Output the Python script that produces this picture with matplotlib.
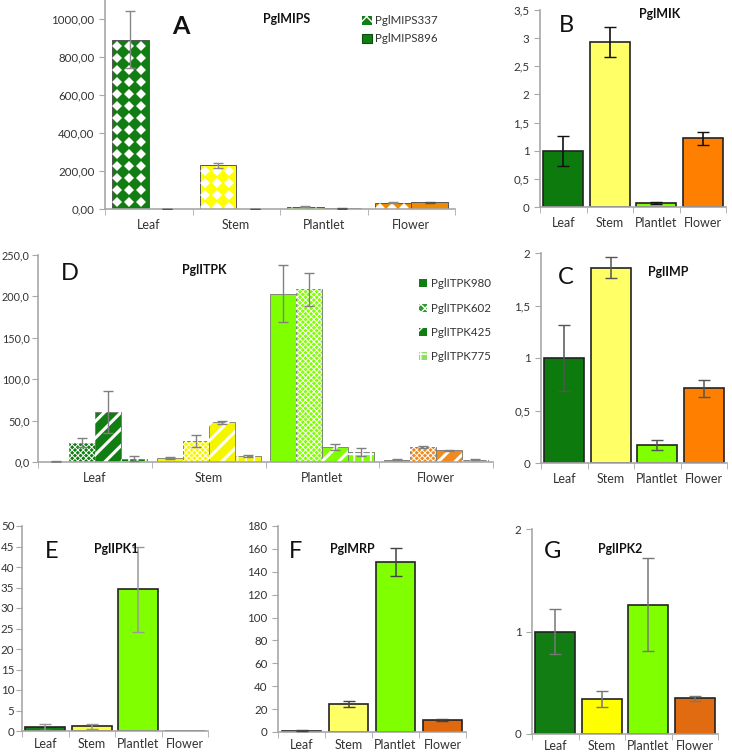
import matplotlib
matplotlib.use('Agg')
import matplotlib.pyplot as plt
from matplotlib.patches import Patch
import numpy as np

plt.rcParams['font.family'] = ['Lato', 'DejaVu Sans']

tissues = ['Leaf', 'Stem', 'Plantlet', 'Flower']

# panel A - PglMIPS
mips337 = [890, 230, 12, 33]
mips337_err = [150, 12, 3, 3]
mips896 = [2, 1, 3, 35]
mips896_err = [0.5, 0.5, 1, 3]

# panel B - PglMIK
mik = [1.0, 2.93, 0.07, 1.22]
mik_err = [0.27, 0.27, 0.02, 0.12]

# panel C - PglIMP
imp = [1.0, 1.86, 0.17, 0.71]
imp_err = [0.31, 0.1, 0.05, 0.08]

# panel D - PglITPK (one list per isoform, values by tissue)
itpk980 = [0.5, 5.0, 203.5, 2.8]
itpk980_err = [0.8, 1.5, 34.5, 0.5]
itpk602 = [23.5, 25.2, 208.5, 18.3]
itpk602_err = [5.0, 7.0, 20.0, 1.5]
itpk425 = [60.2, 47.8, 18.3, 14.0]
itpk425_err = [25.0, 1.8, 3.5, 1.0]
itpk775 = [4.2, 7.0, 12.3, 2.8]
itpk775_err = [3.0, 1.5, 4.5, 0.5]

# panel E - PglIPK1
ipk1 = [0.9, 1.1, 34.6, 0.0]
ipk1_err = [0.7, 0.5, 10.4, 0.0]

# panel F - PglMRP
mrp = [1.0, 24.5, 148.5, 10.3]
mrp_err = [0.5, 3.0, 12.5, 0.7]

# panel G - PglIPK2
ipk2 = [1.0, 0.34, 1.26, 0.35]
ipk2_err = [0.215, 0.075, 0.455, 0.025]

W, H = 732, 756
fig = plt.figure(figsize=(W / 100, H / 100), dpi=100)

GRAY = '#a8a8a8'
TXT = '#333333'


def px_axes(left, top, right, bottom):
    return fig.add_axes([left / W, 1 - bottom / H, (right - left) / W, (bottom - top) / H])


def px_text(x, y, s, **kw):
    fig.text(x / W, 1 - y / H, s, ha='center', va='center', **kw)


def style(ax, ymax, yticks, ylabels, ysize=8.3, ypad=3.5, xpad=7):
    ax.set_xlim(-0.5, 3.5)
    ax.set_ylim(0, ymax)
    ax.patch.set_alpha(0)
    for s in ['top', 'right']:
        ax.spines[s].set_visible(False)
    for s in ['left', 'bottom']:
        ax.spines[s].set_color(GRAY)
        ax.spines[s].set_linewidth(1.2)
    ax.set_yticks(yticks, ylabels)
    ax.set_xticks(range(4), tissues)
    ax.set_xticks(np.arange(-0.5, 4.0, 1.0), minor=True)
    ax.tick_params(axis='x', which='major', length=0, pad=xpad, labelsize=9, labelcolor=TXT)
    ax.tick_params(axis='x', which='minor', length=4, color=GRAY)
    ax.tick_params(axis='y', length=4, color=GRAY, labelsize=ysize, labelcolor=TXT, pad=ypad)


def diamond_fill(ax, rect, step=12.0, ms=4.8):
    x0, y0 = rect.get_x(), rect.get_y()
    (px0, py0), (px1, py1) = ax.transData.transform(
        [(x0, y0), (x0 + rect.get_width(), y0 + rect.get_height())])
    xs = np.arange(px0 + step * 0.45, px1, step)
    ys = np.arange(py1 - step * 0.47, py0 - step, -step)
    gx, gy = np.meshgrid(xs, ys)
    pts = ax.transData.inverted().transform(np.column_stack([gx.ravel(), gy.ravel()]))
    ln, = ax.plot(pts[:, 0], pts[:, 1], 'D', color='white', ms=ms, mew=0,
                  linestyle='none', zorder=2.5)
    ln.set_clip_path(rect)


def hatch_over(ax, x, h, w, hatch, hlw):
    bars = ax.bar(x, h, w, facecolor='none', edgecolor='white', linewidth=0,
                  hatch=hatch, zorder=2.5)
    for b in bars:
        if hasattr(b, 'set_hatch_linewidth'):
            b.set_hatch_linewidth(hlw)


x = np.arange(4)

# ---------------- A ----------------
colA = ['#127d12', '#ffff00', '#7fff00', '#f08a00']
axA = px_axes(105, 0, 455, 209)
style(axA, 1100, [0, 200, 400, 600, 800, 1000],
      ['0,00', '200,00', '400,00', '600,00', '800,00', '1000,00'])
wA = 0.42
barsA = axA.bar(x - wA / 2, mips337, wA, color=colA, edgecolor='#555555', linewidth=0.7, zorder=2)
for b in barsA:
    diamond_fill(axA, b)
axA.bar(x + wA / 2, mips896, wA, color=colA, edgecolor='#555555', linewidth=0.7, zorder=2)
axA.errorbar(x - wA / 2, mips337, yerr=mips337_err, fmt='none', ecolor='#888888',
             elinewidth=1, capsize=3.5, zorder=3)
axA.errorbar(x + wA / 2, mips896, yerr=mips896_err, fmt='none', ecolor='#555555',
             elinewidth=1, capsize=3.5, zorder=3)
px_text(181, 26, 'A', fontsize=18, fontweight='bold', color='#111111')
px_text(287, 19, 'PglMIPS', fontsize=9, fontweight='bold', color='#111111')
hA = [Patch(facecolor='#127d12', edgecolor='white', hatch='xx', linewidth=0),
      Patch(facecolor='#127d12', edgecolor='#0b4d0b', linewidth=0.8)]
fig.legend(hA, ['PglMIPS337', 'PglMIPS896'], loc='upper left',
           bbox_to_anchor=(352 / W, 1 - 5 / H), frameon=False, fontsize=8.3,
           handlelength=0.8, handleheight=0.8, handletextpad=0.3, labelspacing=0.6,
           labelcolor=TXT)

# ---------------- B ----------------
colB = ['#0c7a0c', '#ffff66', '#80ff00', '#ff8000']
axB = px_axes(540, 10, 726, 207)
style(axB, 3.5, [0, 0.5, 1, 1.5, 2, 2.5, 3, 3.5],
      ['0', '0,5', '1', '1,5', '2', '2,5', '3', '3,5'])
axB.bar(x, mik, 0.86, color=colB, edgecolor='#222222', linewidth=1.2, zorder=2)
axB.errorbar(x, mik, yerr=mik_err, fmt='none', ecolor='#111111', elinewidth=1.2,
             capsize=4, zorder=3)
px_text(566, 26, 'B', fontsize=17, color='#111111')
px_text(660, 14, 'PglMIK', fontsize=9, fontweight='bold', color='#111111')

# ---------------- C ----------------
axC = px_axes(541, 253, 727, 463)
style(axC, 2, [0, 0.5, 1, 1.5, 2], ['0', '0,5', '1', '1,5', '2'])
axC.bar(x, imp, 0.85, color=colB, edgecolor='#222222', linewidth=1.2, zorder=2)
axC.errorbar(x, imp, yerr=imp_err, fmt='none', ecolor='#555555', elinewidth=1.1,
             capsize=4, zorder=3)
px_text(566, 277, 'C', fontsize=17, color='#111111')
px_text(668, 272, 'PglIMP', fontsize=9, fontweight='bold', color='#111111')

# ---------------- D ----------------
colD = ['#127d12', '#f5f500', '#80ff00', '#f08a20']
axD = px_axes(38, 255, 493, 462)
style(axD, 250, [0, 50, 100, 150, 200, 250],
      ['0,0', '50,0', '100,0', '150,0', '200,0', '250,0'], ysize=7.8, ypad=2)
wD = 0.229
seriesD = [(itpk980, itpk980_err, None, 0), (itpk602, itpk602_err, 'xxxxxx', 0.7),
           (itpk425, itpk425_err, '//', 2.2), (itpk775, itpk775_err, '++', 1.4)]
for i, (vals, errs, hatch, hlw) in enumerate(seriesD):
    xi = x + (i - 1.5) * wD
    axD.bar(xi, vals, wD, color=colD, edgecolor='#777777', linewidth=0.6, zorder=2)
    if hatch:
        hatch_over(axD, xi, vals, wD, hatch, hlw)
    axD.errorbar(xi, vals, yerr=errs, fmt='none', ecolor='#808080', elinewidth=1,
                 capsize=3.5, zorder=3)
px_text(70, 274, 'D', fontsize=17, color='#111111')
px_text(204, 270, 'PglITPK', fontsize=9, fontweight='bold', color='#111111')
hD = [Patch(facecolor='#127d12', linewidth=0),
      Patch(facecolor='#2f9a2f', edgecolor='white', hatch='xxxx', linewidth=0),
      Patch(facecolor='#127d12', edgecolor='white', hatch='//', linewidth=0),
      Patch(facecolor='#8fe060', edgecolor='white', hatch='++', linewidth=0)]
fig.legend(hD, ['PglITPK980', 'PglITPK602', 'PglITPK425', 'PglITPK775'],
           loc='upper left', bbox_to_anchor=(409 / W, 1 - 268 / H), frameon=False,
           fontsize=8.3, handlelength=0.7, handleheight=0.7, handletextpad=0.3,
           labelspacing=1.15, labelcolor=TXT)

# ---------------- E ----------------
colE = ['#127d12', '#ffff33', '#80ff00', '#e8700f']
axE = px_axes(22, 526, 208, 731)
style(axE, 50, list(range(0, 51, 5)), [str(v) for v in range(0, 51, 5)], ypad=1.5, xpad=5)
axE.bar(x, ipk1, 0.85, color=colE, edgecolor='#222222', linewidth=1.2, zorder=2)
axE.errorbar(x[:3], ipk1[:3], yerr=ipk1_err[:3], fmt='none', ecolor='#999999',
             elinewidth=1.1, capsize=4, zorder=3)
px_text(52, 551, 'E', fontsize=17, color='#111111')
px_text(116, 549, 'PglIPK1', fontsize=9, fontweight='bold', color='#111111')

# ---------------- F ----------------
colF = ['#127d12', '#ffff66', '#80ff00', '#e0680f']
axF = px_axes(278, 526, 466, 732)
style(axF, 180, list(range(0, 181, 20)), [str(v) for v in range(0, 181, 20)], xpad=5)
axF.bar(x, mrp, 0.85, color=colF, edgecolor='#222222', linewidth=1.2, zorder=2)
axF.errorbar(x, mrp, yerr=mrp_err, fmt='none', ecolor='#444444', elinewidth=1.1,
             capsize=4, zorder=3)
px_text(296, 551, 'F', fontsize=17, color='#111111')
px_text(352, 549, 'PglMRP', fontsize=9, fontweight='bold', color='#111111')

# ---------------- G ----------------
colG = ['#127d12', '#ffff00', '#80ff00', '#e06b10']
axG = px_axes(532, 529, 718, 734)
style(axG, 2, [0, 1, 2], ['0', '1', '2'], xpad=4)
axG.bar(x, ipk2, 0.85, color=colG, edgecolor='#222222', linewidth=1.2, zorder=2)
axG.errorbar(x, ipk2, yerr=ipk2_err, fmt='none', ecolor='#777777', elinewidth=1.1,
             capsize=4, zorder=3)
px_text(553, 551, 'G', fontsize=17, color='#111111')
px_text(620, 549, 'PglIPK2', fontsize=9, fontweight='bold', color='#111111')

fig.savefig('out.png', dpi=100)
plt.close(fig)
